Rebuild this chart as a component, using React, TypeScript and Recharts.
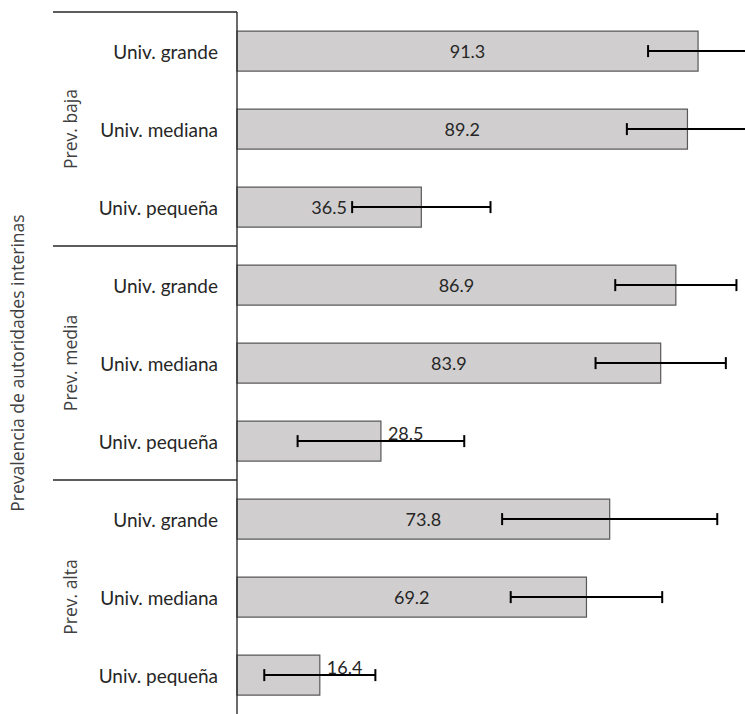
import React from "react";
import {
  Bar,
  BarChart,
  CartesianGrid,
  ErrorBar,
  LabelList,
  XAxis,
  YAxis,
} from "recharts";

const groups = ["Prev. baja", "Prev. media", "Prev. alta"];
const categories = ["Univ. grande", "Univ. mediana", "Univ. pequeña"];
const values = [91.3, 89.2, 36.5, 86.9, 83.9, 28.5, 73.8, 69.2, 16.4];
const errors = [9.9, 12.0, 13.7, 12.0, 12.9, 16.5, 21.3, 15.0, 11.0];
const xTicks = [0, 20, 40, 60, 80, 100, 120];
const axisTitle = "Prevalencia de autoridades interinas";

const data = values.map((v, i) => ({
  key: `${groups[Math.floor(i / 3)]}|${categories[i % 3]}`,
  value: v,
  err: errors[i],
}));

const labelFont = "Lato, 'Liberation Sans', sans-serif";
const titleFont = "'Open Sans', 'DejaVu Sans', sans-serif";
const TICK_GAP = 19;

function CategoryTick(props: any) {
  const { x, y, payload, index } = props;
  const [group, cat] = String(payload.value).split("|");
  const half = payload.offset || 39;
  const axisX = x + TICK_GAP;
  return (
    <g>
      <text
        x={x}
        y={y}
        textAnchor="end"
        dominantBaseline="central"
        fontFamily={labelFont}
        fontSize={19}
        fill="#262626"
      >
        {cat}
      </text>
      {index % 3 === 0 && (
        <line x1={53} x2={axisX} y1={y - half} y2={y - half} stroke="#262626" strokeWidth={1.3} />
      )}
      {index % 3 === 1 && (
        <text
          x={70}
          y={y}
          transform={`rotate(-90 70 ${y})`}
          textAnchor="middle"
          dominantBaseline="central"
          fontFamily={titleFont}
          fontSize={17.5}
          fill="#404040"
        >
          {group}
        </text>
      )}
    </g>
  );
}

function AxisTitle(props: any) {
  const vb = props.viewBox || {};
  const cx = (vb.x || 0) + 17;
  const cy = (vb.y || 0) + (vb.height || 0) / 2;
  return (
    <text
      x={cx}
      y={cy}
      transform={`rotate(-90 ${cx} ${cy})`}
      textAnchor="middle"
      dominantBaseline="central"
      fontFamily={titleFont}
      fontSize={17.5}
      fill="#404040"
    >
      {axisTitle}
    </text>
  );
}

function ValueLabel(props: any) {
  const { x, y, width, height, value } = props;
  const small = value < 30;
  const tx = small ? x + width + 7 : x + width / 2;
  const ty = small ? y + height / 2 - 8 : y + height / 2;
  return (
    <text
      x={tx}
      y={ty}
      textAnchor={small ? "start" : "middle"}
      dominantBaseline="central"
      fontFamily={labelFont}
      fontSize={18}
      fill="#262626"
    >
      {value}
    </text>
  );
}

export default function App() {
  return (
    <div
      style={{
        position: "fixed",
        left: 0,
        top: 0,
        width: 745,
        height: 714,
        overflow: "hidden",
        background: "#fff",
      }}
    >
      <BarChart
        width={850}
        height={744}
        data={data}
        layout="vertical"
        margin={{ top: 12, right: 7, left: 0, bottom: 0 }}
        barCategoryGap="24.5%"
      >
        <CartesianGrid horizontal={false} stroke="#d9d9d9" />
        <XAxis
          type="number"
          domain={[0, 120]}
          ticks={xTicks}
          height={30}
          axisLine={false}
          tickLine={false}
          tick={false}
        />
        <YAxis
          type="category"
          dataKey="key"
          width={237}
          tick={<CategoryTick />}
          tickLine={false}
          tickSize={0}
          tickMargin={TICK_GAP}
          axisLine={{ stroke: "#262626", strokeWidth: 1.3 }}
          interval={0}
          label={<AxisTitle />}
        />
        <Bar
          dataKey="value"
          fill="#d0cece"
          stroke="#595959"
          strokeWidth={1.2}
          isAnimationActive={false}
        >
          <ErrorBar
            dataKey="err"
            direction="x"
            width={6}
            stroke="#000"
            strokeWidth={2}
          />
          <LabelList dataKey="value" content={<ValueLabel />} />
        </Bar>
      </BarChart>
    </div>
  );
}
